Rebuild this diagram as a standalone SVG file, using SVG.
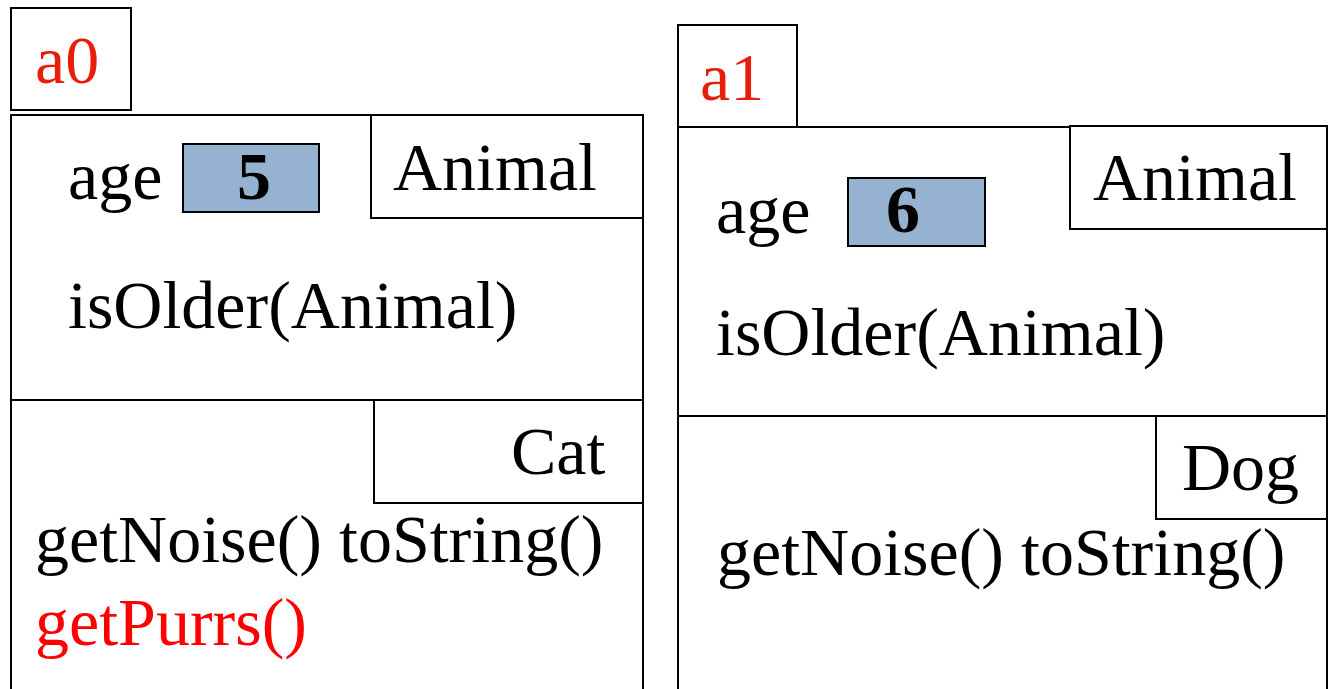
<svg xmlns="http://www.w3.org/2000/svg" width="1330" height="689" viewBox="0 0 1330 689">
<style>
.b{fill:#fff;stroke:#000;stroke-width:2}
.v{fill:#95b3d1;stroke:#000;stroke-width:2}
.t{font-family:"Liberation Serif","Times New Roman",serif;font-size:68px;fill:#000}
.r{fill:#e81e0a}
.p{fill:#ff0000}
.n{font-weight:bold;text-anchor:middle}
</style>
<rect width="1330" height="689" fill="#fff"/>
<g id="a0">
<rect class="b" x="11" y="8" width="120" height="102"/>
<text class="t r" x="35" y="83" font-size="56">a0</text>
</g>
<g id="cat-object">
<rect class="b" x="11" y="115" width="632" height="600"/>
<line x1="11" y1="400" x2="643" y2="400" stroke="#000" stroke-width="2"/>
<rect class="b" x="371" y="115" width="272" height="103"/>
<text class="t" x="393" y="190">Animal</text>
<text class="t" x="68" y="199">age</text>
<rect class="v" x="183" y="144" width="136" height="68"/>
<text class="t n" x="254" y="199">5</text>
<text class="t" x="68" y="328">isOlder(Animal)</text>
<rect class="b" x="374" y="400" width="269" height="103"/>
<text class="t" x="511" y="474">Cat</text>
<text class="t" x="35" y="562">getNoise() toString()</text>
<text class="t p" x="35" y="645">getPurrs()</text>
</g>
<g id="a1">
<rect class="b" x="678" y="25" width="119" height="102"/>
<text class="t r" x="700" y="100" font-size="56">a1</text>
</g>
<g id="dog-object">
<rect class="b" x="678" y="127" width="649" height="600"/>
<line x1="678" y1="416" x2="1327" y2="416" stroke="#000" stroke-width="2"/>
<rect class="b" x="1070" y="126" width="257" height="103"/>
<text class="t" x="1093" y="200">Animal</text>
<text class="t" x="716" y="233">age</text>
<rect class="v" x="848" y="178" width="137" height="68"/>
<text class="t n" x="903" y="232">6</text>
<text class="t" x="716" y="355">isOlder(Animal)</text>
<rect class="b" x="1156" y="416" width="171" height="103"/>
<text class="t" x="1182" y="490">Dog</text>
<text class="t" x="717" y="575">getNoise() toString()</text>
</g>
<g id="connectors"/>
</svg>
